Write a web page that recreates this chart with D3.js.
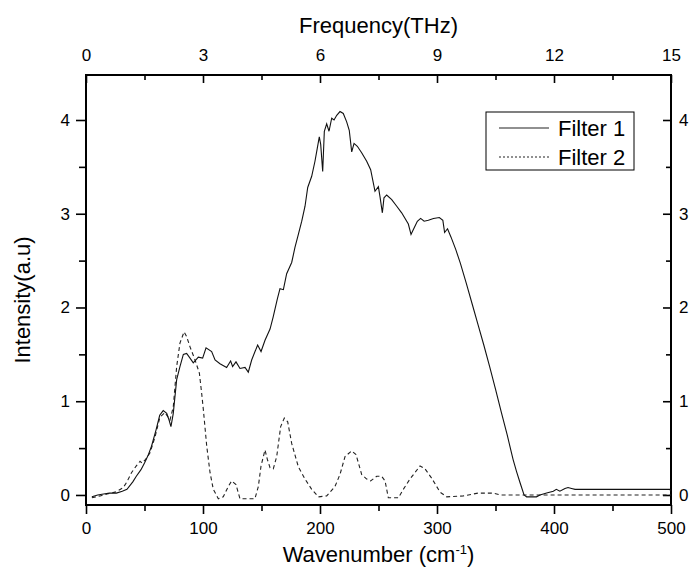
<!DOCTYPE html>
<html>
<head>
<meta charset="utf-8">
<script src="https://cdnjs.cloudflare.com/ajax/libs/d3/7.8.5/d3.min.js"></script>
<style>
  body { margin: 0; background: #fff; }
  svg text { font-family: "Liberation Sans", Arimo, Arial, sans-serif; fill: #000; }
</style>
</head>
<body>
<script>
// Filter 1 (solid) - wavenumber (cm-1) and intensity
const filter1Wave = [5, 10, 15, 20, 26, 31, 35, 40, 43, 47, 50, 53, 56, 60, 63, 66, 69, 71, 72.6, 74.6,
  77.5, 80.3, 83.2, 86, 88.9, 91.7, 96, 99.7, 102.6, 107.4, 110.3, 114.5, 120.2, 123.6, 125.3, 128.2,
  131.6, 135.9, 138.7, 141.6, 146.7, 149.6, 153, 157.3, 160, 163.5, 165.8, 168.7, 171.5, 175.8, 178.6,
  181.5, 184.4, 187.2, 189.5, 192.9, 195.7, 197.7, 199.4, 200.6, 202.3, 203.7, 205.7, 207.7, 210, 212,
  214.3, 217.1, 219.9, 222.8, 225, 227.1, 229.1, 231.9, 235.6, 239.9, 243.3, 247, 249.9, 251.3, 253.3,
  254.7, 257, 261.3, 265.6, 269.8, 275.5, 277.8, 279.7, 283.2, 286, 289, 292.6, 297, 302, 305, 306.5,
  309, 312, 316, 320, 325, 330, 335, 340, 345, 350, 355, 360, 365, 368, 371, 374.4, 376.6, 385, 388,
  393.7, 399.4, 402, 405, 409.4, 412, 415, 418, 499, 500];
const filter1Int = [-0.02, 0.0, 0.01, 0.02, 0.02, 0.04, 0.06, 0.14, 0.2, 0.27, 0.34, 0.42, 0.52, 0.70, 0.85, 0.90, 0.87, 0.80, 0.73, 0.87,
  1.23, 1.37, 1.50, 1.51, 1.46, 1.41, 1.47, 1.46, 1.57, 1.53, 1.44, 1.40, 1.36, 1.43, 1.37, 1.42,
  1.35, 1.36, 1.31, 1.44, 1.60, 1.53, 1.65, 1.77, 1.90, 2.09, 2.20, 2.19, 2.36, 2.48, 2.64,
  2.78, 2.92, 3.08, 3.28, 3.40, 3.56, 3.70, 3.82, 3.74, 3.45, 3.88, 3.96, 3.88, 4.02, 4.00,
  4.05, 4.09, 4.07, 3.98, 3.89, 3.66, 3.75, 3.72, 3.65, 3.56, 3.47, 3.24, 3.29, 3.18, 3.01,
  3.17, 3.20, 3.15, 3.08, 3.01, 2.89, 2.78, 2.83, 2.92, 2.95, 2.92, 2.93, 2.95, 2.96, 2.93, 2.80,
  2.84, 2.75, 2.62, 2.47, 2.26, 2.04, 1.82, 1.60, 1.37, 1.13, 0.88, 0.64, 0.38, 0.25, 0.13, 0.0, -0.02, -0.02, 0.0,
  0.02, 0.04, 0.06, 0.04, 0.07, 0.08, 0.07, 0.06, 0.06, 0.04];

// Filter 2 (dashed)
const filter2Wave = [5, 12, 18, 24.8, 28, 31.9, 35, 39, 43, 46.2, 48, 51, 54.7, 59, 63.2, 67.5, 71.8, 74.6,
  77.5, 80.3, 83.8, 86, 88.9, 93.2, 96.9, 98.9, 100.3, 103.2, 106, 108.8, 113.1, 117.3, 121.6, 124.5,
  128.2, 131.6, 144.4, 147.3, 149.6, 153, 155, 157.3, 160.1, 163, 166.4, 169.5, 172.4, 175.8, 181.5,
  187.2, 192.9, 198.6, 205.7, 212.8, 217.1, 221.4, 227.1, 230.8, 235.6, 239.9, 243.3, 248.5, 252.7,
  255.6, 258.4, 267, 271.2, 276.9, 280, 285.5, 289.7, 295.4, 302.6, 308.3, 322.5, 335, 348, 354, 500];
const filter2Int = [-0.03, -0.01, 0.01, 0.03, 0.05, 0.08, 0.14, 0.24, 0.31, 0.36, 0.34, 0.38, 0.45, 0.62, 0.83, 0.88, 0.80, 0.94,
  1.37, 1.62, 1.74, 1.69, 1.58, 1.44, 1.30, 1.08, 0.91, 0.52, 0.24, 0.06, -0.04, -0.02, 0.09, 0.15,
  0.11, -0.04, -0.04, 0.09, 0.31, 0.48, 0.38, 0.29, 0.28, 0.41, 0.73, 0.82, 0.78, 0.55, 0.30,
  0.17, 0.06, -0.02, -0.01, 0.09, 0.22, 0.41, 0.47, 0.43, 0.22, 0.17, 0.15, 0.20, 0.20,
  0.15, -0.03, -0.03, 0.06, 0.17, 0.22, 0.31, 0.28, 0.18, 0.03, -0.02, -0.01, 0.02, 0.02, 0.0, 0.0];

// Tick values
const waveTicks = [0, 100, 200, 300, 400, 500];
const waveMinor = [50, 150, 250, 350, 450];
const thzTicks = [0, 3, 6, 9, 12, 15];
const thzMinor = [1.5, 4.5, 7.5, 10.5, 13.5];
const intTicks = [0, 1, 2, 3, 4];
const intMinor = [0.5, 1.5, 2.5, 3.5];
const seriesNames = ['Filter 1', 'Filter 2'];

const W = 690, H = 571;
const plotLeft = 86, plotRight = 671, plotTop = 75, plotBottom = 505;
const tickFont = 17;
const titleFont = 22;

const svg = d3.select('body').append('svg')
  .attr('width', W)
  .attr('height', H);

const x = d3.scaleLinear().domain([0, 500]).range([plotLeft, plotRight]);
const xTop = d3.scaleLinear().domain([0, 15]).range([plotLeft, plotRight]);
const y = d3.scaleLinear().domain([-0.107, 4.48]).range([plotBottom, plotTop]);
const fmt = d3.format('d');

function styleAxis(g) {
  g.select('.domain').remove();
  g.attr('font-family', null);
  g.selectAll('line').attr('stroke', '#000').attr('stroke-width', 1.6);
  g.selectAll('text').attr('font-size', tickFont).attr('fill', '#000');
}

// bottom axis (outward ticks)
svg.append('g').attr('transform', `translate(0,${plotBottom})`)
  .call(d3.axisBottom(x).tickValues(waveTicks).tickFormat(fmt).tickSize(9).tickPadding(8))
  .call(styleAxis);
svg.append('g').attr('transform', `translate(0,${plotBottom})`)
  .call(d3.axisBottom(x).tickValues(waveMinor).tickSize(6).tickFormat(''))
  .call(styleAxis);

// top axis (inward ticks)
svg.append('g').attr('transform', `translate(0,${plotTop})`)
  .call(d3.axisTop(xTop).tickValues(thzTicks).tickFormat(fmt).tickSizeInner(-8).tickSizeOuter(0).tickPadding(14))
  .call(styleAxis);
svg.append('g').attr('transform', `translate(0,${plotTop})`)
  .call(d3.axisTop(xTop).tickValues(thzMinor).tickSizeInner(-5).tickSizeOuter(0).tickFormat(''))
  .call(styleAxis);

// left axis (outward ticks)
svg.append('g').attr('transform', `translate(${plotLeft},0)`)
  .call(d3.axisLeft(y).tickValues(intTicks).tickFormat(fmt).tickSize(10).tickPadding(6))
  .call(styleAxis);
svg.append('g').attr('transform', `translate(${plotLeft},0)`)
  .call(d3.axisLeft(y).tickValues(intMinor).tickSize(7).tickFormat(''))
  .call(styleAxis);

// right axis (inward ticks)
svg.append('g').attr('transform', `translate(${plotRight},0)`)
  .call(d3.axisRight(y).tickValues(intTicks).tickFormat(fmt).tickSizeInner(-8).tickSizeOuter(0).tickPadding(8))
  .call(styleAxis);
svg.append('g').attr('transform', `translate(${plotRight},0)`)
  .call(d3.axisRight(y).tickValues(intMinor).tickSizeInner(-5).tickSizeOuter(0).tickFormat(''))
  .call(styleAxis);

// frame
svg.append('rect')
  .attr('x', plotLeft).attr('y', plotTop)
  .attr('width', plotRight - plotLeft).attr('height', plotBottom - plotTop)
  .attr('fill', 'none').attr('stroke', '#000').attr('stroke-width', 2);

// lines
const line = d3.line().x(d => x(d[0])).y(d => y(d[1]));
const f1 = filter1Wave.map((w, i) => [w, filter1Int[i]]);
const f2 = filter2Wave.map((w, i) => [w, filter2Int[i]]);

svg.append('path').datum(f2)
  .attr('d', line)
  .attr('fill', 'none').attr('stroke', '#222').attr('stroke-width', 1.1)
  .attr('stroke-dasharray', '4,3');

svg.append('path').datum(f1)
  .attr('d', line)
  .attr('fill', 'none').attr('stroke', '#111').attr('stroke-width', 1.1);

// axis titles
svg.append('text')
  .attr('x', (plotLeft + plotRight) / 2).attr('y', 33)
  .attr('text-anchor', 'middle').attr('font-size', titleFont)
  .text('Frequency(THz)');

const xt = svg.append('text')
  .attr('x', (plotLeft + plotRight) / 2).attr('y', 562)
  .attr('text-anchor', 'middle').attr('font-size', titleFont);
xt.append('tspan').text('Wavenumber (cm');
xt.append('tspan').attr('dy', -8).attr('font-size', 13).text('-1');
xt.append('tspan').attr('dy', 8).text(')');

svg.append('text')
  .attr('transform', `translate(30,300) rotate(-90)`)
  .attr('text-anchor', 'middle').attr('font-size', titleFont)
  .text('Intensity(a.u)');

// legend
const legend = svg.append('g');
legend.append('rect')
  .attr('x', 486).attr('y', 112).attr('width', 148).attr('height', 58)
  .attr('fill', '#fff').attr('stroke', '#000').attr('stroke-width', 1);
seriesNames.forEach((name, i) => {
  const ly = 128 + i * 29;
  legend.append('line')
    .attr('x1', 499).attr('x2', 549).attr('y1', ly).attr('y2', ly)
    .attr('stroke', '#222').attr('stroke-width', 1.1)
    .attr('stroke-dasharray', i === 0 ? null : '2,2');
  legend.append('text')
    .attr('x', 558).attr('y', ly + 8)
    .attr('font-size', titleFont)
    .text(name);
});
</script>
</body>
</html>
